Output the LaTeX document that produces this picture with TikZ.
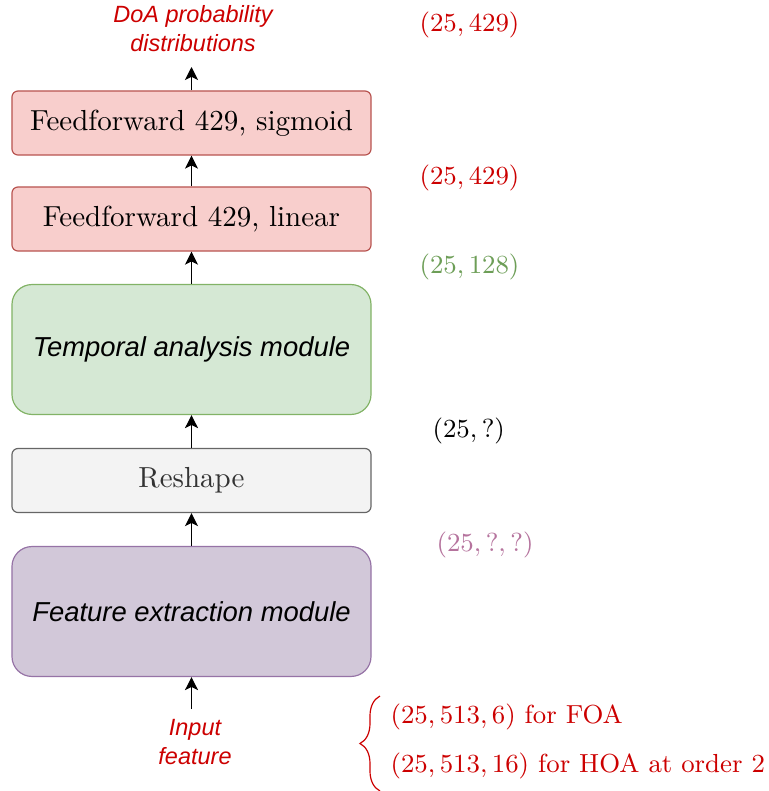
\documentclass[tikz,border=0pt]{standalone}
\usepackage{fontspec}
\usetikzlibrary{arrows.meta,decorations.pathreplacing}
\newfontfamily\lsans{Liberation Sans}
\definecolor{redtxt}{HTML}{CC0000}
\definecolor{redfill}{HTML}{F8CECC}
\definecolor{redline}{HTML}{B85450}
\definecolor{grnfill}{HTML}{D5E8D4}
\definecolor{grnline}{HTML}{82B366}
\definecolor{grntxt}{HTML}{6D9E57}
\definecolor{gryfill}{HTML}{F3F3F3}
\definecolor{gryline}{HTML}{666666}
\definecolor{grytxt}{HTML}{333333}
\definecolor{purfill}{HTML}{D2C8D9}
\definecolor{purline}{HTML}{9673A6}
\definecolor{purtxt}{HTML}{B5739D}
% 1 px of the reference = 0.3448pt
\tikzset{
  blk/.style={rectangle, rounded corners=2.07pt, line width=0.41pt, minimum width=123.8pt, inner sep=0pt, font=\fontsize{10}{12}\selectfont},
  bigblk/.style={blk, rounded corners=6.9pt, minimum height=44.8pt, font=\lsans\itshape\fontsize{9.45}{11}\selectfont},
  smallblk/.style={blk, minimum height=22.07pt},
  arr/.style={-{Stealth[length=4.5pt,width=4.5pt,inset=1.1pt]}, line width=0.45pt, black},
  lbl/.style={anchor=west, inner sep=0pt, font=\fontsize{9.1}{11}\selectfont},
  shp/.style={anchor=west, inner sep=0pt, font=\fontsize{9.0}{11}\selectfont},
  sidetxt/.style={align=center, inner sep=0pt, text=redtxt, font=\lsans\itshape\fontsize{8.1}{10}\selectfont}
}
\begin{document}
\begin{tikzpicture}[x=0.3448pt,y=-0.3448pt]
\useasboundingbox (0,0) rectangle (768,791);
% blocks
\node[smallblk, fill=redfill, draw=redline] (b1) at (191.5,123) {Feedforward 429, sigmoid};
\node[smallblk, fill=redfill, draw=redline] (b2) at (191.5,219) {Feedforward 429, linear};
\node[bigblk, fill=grnfill, draw=grnline] (b3) at (191.5,349.5) {Temporal analysis module};
\node[smallblk, fill=gryfill, draw=gryline, text=grytxt] (b4) at (191.5,480.5) {Reshape};
\node[bigblk, fill=purfill, draw=purline] (b5) at (191.5,611.5) {Feature extraction module};
% outer labels
\node[sidetxt] (out) at (193,29) {DoA probability\\distributions};
\node[sidetxt] (inp) at (195,742) {Input\\feature};
\coordinate (outtip) at (191.5,67);
\coordinate (intail) at (191.5,709);
% arrows
\draw[arr] (b1.north) -- (outtip);
\draw[arr] (b2.north) -- (b1.south);
\draw[arr] (b3.north) -- (b2.south);
\draw[arr] (b4.north) -- (b3.south);
\draw[arr] (b5.north) -- (b4.south);
\draw[arr] (intail) -- (b5.south);
% dimension labels
\node[lbl, text=redtxt] (d1) at (419,25) {$(25, 429)$};
\node[lbl, text=redtxt] (d2) at (419,178) {$(25, 429)$};
\node[lbl, text=grntxt] (d3) at (419,267) {$(25, 128)$};
\node[lbl, text=black] (d4) at (432,431) {$(25, ?)$};
\node[lbl, text=purtxt] (d5) at (436,545) {$(25, ?, ?)$};
% brace and input shapes
\coordinate (brb) at (380,791);
\coordinate (brt) at (380,696);
\draw[redtxt, line width=0.41pt, decorate, decoration={brace, amplitude=6.9pt, raise=0pt}] (brb) -- (brt);
\node[shp, text=redtxt] (s1) at (390,717) {$(25, 513, 6)$ for FOA};
\node[shp, text=redtxt] (s2) at (390,766) {$(25, 513, 16)$ for HOA at order 2};
\end{tikzpicture}
\end{document}
